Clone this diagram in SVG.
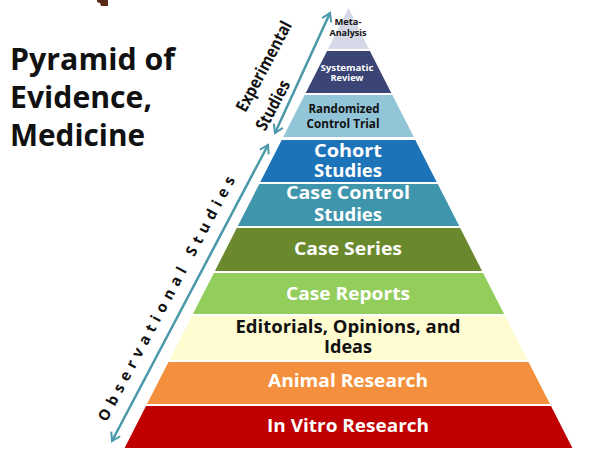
<svg xmlns="http://www.w3.org/2000/svg" width="590" height="461" viewBox="0 0 590 461">
<style>
  text { font-family: "Open Sans", Lato, "Liberation Sans", sans-serif; font-weight: bold; text-anchor: middle; }
  .title { font-size: 30px; fill: #111; text-anchor: start; }
  .w { fill: #ffffff; }
  .k { fill: #111111; }
  .big { font-size: 18px; }
  .side { font-size: 17px; fill: #111; }
  .obs { font-size: 15px; fill: #111; }
  .arrow { stroke: #4a98a9; stroke-width: 2.5; fill: none; }
</style>
<defs>
  <marker id="chev" viewBox="0 0 12 12" refX="10" refY="6" markerWidth="12" markerHeight="12" markerUnits="userSpaceOnUse" orient="auto-start-reverse">
    <path d="M2,1 L10,6 L2,11" fill="none" stroke="#4a98a9" stroke-width="2"/>
  </marker>
</defs>
<rect width="590" height="461" fill="#ffffff"/>
<path d="M97,0 L108,0 L108,6 L101,6 L100,3 L97,2 Z" fill="#5a2a18"/>

<g id="title">
  <text class="title" x="10" y="70" textLength="165" lengthAdjust="spacingAndGlyphs">Pyramid of</text>
  <text class="title" x="10" y="108" textLength="142" lengthAdjust="spacingAndGlyphs">Evidence,</text>
  <text class="title" x="10" y="146" textLength="135" lengthAdjust="spacingAndGlyphs">Medicine</text>
</g>

<g id="layer-meta">
  <polygon points="348.5,8 368.9,49 328.1,49" fill="#d6d7e7"/>
  <text class="k" style="font-size:9px" x="348" y="25" textLength="27" lengthAdjust="spacingAndGlyphs">Meta-</text>
  <text class="k" style="font-size:9px" x="348" y="36" textLength="37" lengthAdjust="spacingAndGlyphs">Analysis</text>
</g>
<g id="layer-systematic">
  <polygon points="327.1,51 369.9,51 391.3,93 305.7,93" fill="#3b4575"/>
  <text class="w" style="font-size:9.5px" x="347" y="71" textLength="53" lengthAdjust="spacingAndGlyphs">Systematic</text>
  <text class="w" style="font-size:9.5px" x="347" y="81" textLength="33" lengthAdjust="spacingAndGlyphs">Review</text>
</g>
<g id="layer-rct">
  <polygon points="304.6,95 392.4,95 413.8,137 283.2,137" fill="#92c5d7"/>
  <text class="k" style="font-size:12.5px" x="344" y="113" textLength="71" lengthAdjust="spacingAndGlyphs">Randomized</text>
  <text class="k" style="font-size:12.5px" x="343" y="128" textLength="73" lengthAdjust="spacingAndGlyphs">Control Trial</text>
</g>
<g id="layer-cohort">
  <polygon points="281.7,140 415.3,140 436.7,182 260.3,182" fill="#1c73b7"/>
  <text class="w big" x="348" y="157" textLength="68" lengthAdjust="spacingAndGlyphs">Cohort</text>
  <text class="w big" x="348" y="177" textLength="68" lengthAdjust="spacingAndGlyphs">Studies</text>
</g>
<g id="layer-casecontrol">
  <polygon points="259.3,184 437.8,184 459.2,226 237.8,226" fill="#3f95ac"/>
  <text class="w big" x="348" y="199" textLength="124" lengthAdjust="spacingAndGlyphs">Case Control</text>
  <text class="w big" x="348" y="221" textLength="68" lengthAdjust="spacingAndGlyphs">Studies</text>
</g>
<g id="layer-caseseries">
  <polygon points="236.8,228 460.2,228 482.1,271 214.9,271" fill="#6a892d"/>
  <text class="w big" x="348" y="255" textLength="108" lengthAdjust="spacingAndGlyphs">Case Series</text>
</g>
<g id="layer-casereports">
  <polygon points="213.9,273 483.1,273 504.1,314 192.9,314" fill="#93cd5b"/>
  <text class="w big" x="348" y="300" textLength="124" lengthAdjust="spacingAndGlyphs">Case Reports</text>
</g>
<g id="layer-editorials">
  <polygon points="191.9,316 505.1,316 527.5,360 169.5,360" fill="#fffcd1"/>
  <text class="k big" x="348" y="333" textLength="225" lengthAdjust="spacingAndGlyphs">Editorials, Opinions, and</text>
  <text class="k big" x="348" y="353" textLength="48" lengthAdjust="spacingAndGlyphs">Ideas</text>
</g>
<g id="layer-animal">
  <polygon points="168.5,362 528.5,362 550,404 147,404" fill="#f4903d"/>
  <text class="w big" x="348" y="387" textLength="160" lengthAdjust="spacingAndGlyphs">Animal Research</text>
</g>
<g id="layer-invitro">
  <polygon points="146,406 551,406 572.4,448 124.6,448" fill="#c00000"/>
  <text class="w big" x="348" y="432" textLength="162" lengthAdjust="spacingAndGlyphs">In Vitro Research</text>
</g>

<g id="connectors">
  <line class="arrow" x1="275" y1="133" x2="330" y2="13" marker-start="url(#chev)" marker-end="url(#chev)"/>
  <line class="arrow" x1="112" y1="441" x2="268" y2="145" marker-start="url(#chev)" marker-end="url(#chev)"/>
</g>

<g id="label-experimental">
  <text class="side" transform="translate(269,69) rotate(-62)" textLength="100" lengthAdjust="spacingAndGlyphs">Experimental</text>
  <text class="side" transform="translate(278,108) rotate(-62)" textLength="54" lengthAdjust="spacingAndGlyphs">Studies</text>
</g>
<g id="label-observational">
  <text class="obs" transform="translate(171,301) rotate(-62)" textLength="275" lengthAdjust="spacing">Observational Studies</text>
</g>
</svg>
